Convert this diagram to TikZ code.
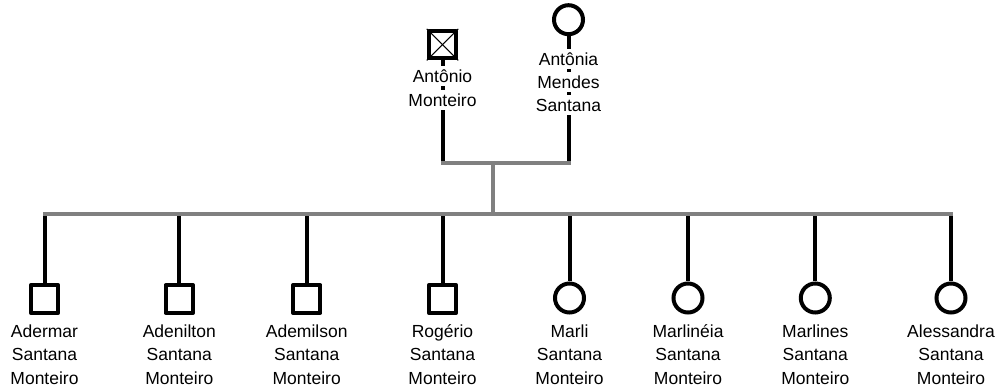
\documentclass[tikz,border=0pt]{standalone}
\usepackage{fontspec}
\setmainfont{Liberation Sans}
\definecolor{bargray}{RGB}{128,128,128}
% a text line on a white strip, so the connector behind it is hidden
\newcommand{\wline}[1]{\colorbox{white}{\rule[-3.5pt]{0pt}{20pt}#1}}
\setlength{\fboxsep}{0pt}
\begin{document}
\begin{tikzpicture}[x=1pt,y=-1pt,
  male/.style={draw=black, line width=4pt, rectangle, minimum size=27.5pt, inner sep=0pt, line join=round},
  female/.style={draw=black, line width=4pt, circle, minimum size=29pt, inner sep=0pt},
  kin/.style={draw=black, line width=4pt},
  bar/.style={draw=bargray, line width=4pt, line cap=rect},
  stem/.style={draw=bargray, line width=4pt},
  who/.style={inner sep=0pt, align=center, font=\fontsize{17.5}{23.3}\selectfont}]
\useasboundingbox (0,0) rectangle (1002,387);

% parents
\node[male] (pa) at (442.5,44.7) {};
\draw[line width=1pt] (pa.north west) -- (pa.south east);
\draw[line width=1pt] (pa.south west) -- (pa.north east);
\node[female] (pb) at (568.5,19.7) {};
\coordinate (pam) at (442.5,163.3);
\coordinate (pbm) at (568.5,163.3);
\draw[kin] (pa) -- (pam);
\draw[kin] (pb) -- (pbm);
% base anchor sits on the last line of a multi-line node
\node[who, anchor=base] (npa) at (442.5,106.3) {\wline{Antônio}\\\wline{Monteiro}};
\node[who, anchor=base] (npb) at (568.5,111.7) {\wline{Antônia}\\\wline{Mendes}\\\wline{Santana}};

% children
\foreach \i/\x/\sh/\y/\nm in {1/44.5/male/299/Adermar, 2/179.3/male/299/Adenilton,
    3/306.7/male/299/Ademilson, 4/442.5/male/299/Rogério, 5/569.5/female/298/Marli,
    6/688/female/298/Marlinéia, 7/815.3/female/298/Marlines, 8/951/female/298/Alessandra}{
  \coordinate (k\i) at (\x,214.5);
  \node[\sh] (c\i) at (\x,\y) {};
  \draw[kin] (k\i) -- (c\i);
  \node[who, anchor=base] (n\i) at (\x,384.3) {\nm\\Santana\\Monteiro};
}

% sibship and parental lines
\coordinate (pj) at (493.3,163.3);
\coordinate (sj) at (493.3,214.5);
\draw[stem] (pj) -- (sj);
\draw[bar] (pam) -- (pbm);
\draw[bar] (k1) -- (k8);
\end{tikzpicture}
\end{document}
